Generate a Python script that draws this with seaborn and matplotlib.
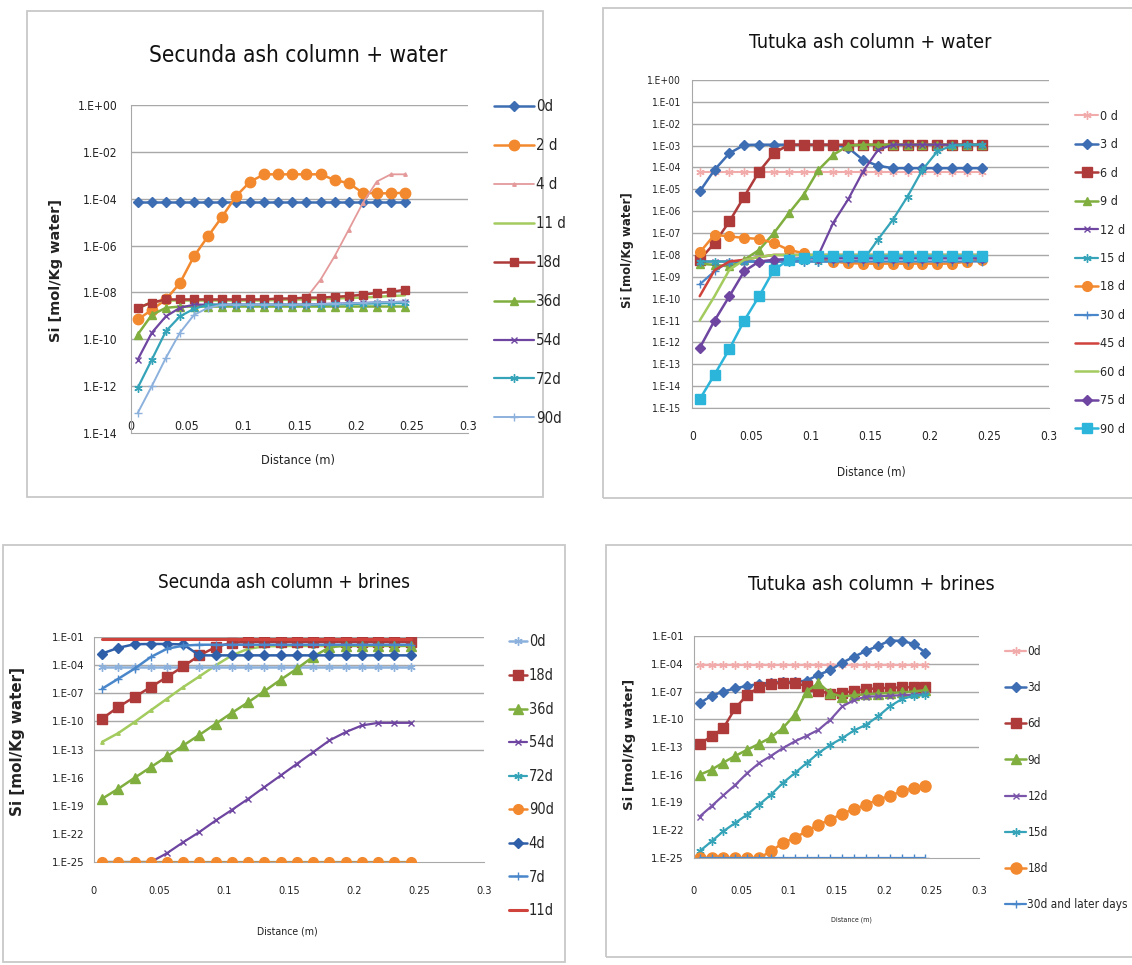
import os
import matplotlib
matplotlib.use("Agg")
import matplotlib.pyplot as plt
from matplotlib import font_manager
from matplotlib.font_manager import FontProperties
from matplotlib.patches import Rectangle
import seaborn as sns

# ---------------- data ----------------
distance = [0.00625, 0.01875, 0.03125, 0.04375, 0.05625, 0.06875, 0.08125, 0.09375,
            0.10625, 0.11875, 0.13125, 0.14375, 0.15625, 0.16875, 0.18125, 0.19375,
            0.20625, 0.21875, 0.23125, 0.24375]
x_ticks = [0, 0.05, 0.1, 0.15, 0.2, 0.25, 0.3]
x_ticklabels = ["0", "0.05", "0.1", "0.15", "0.2", "0.25", "0.3"]

# Secunda ash column + water
sw_labels = ["0d", "2 d", "4 d", "11 d", "18d", "36d", "54d", "72d", "90d"]
sw_0d = [7e-5, 7e-5, 7e-5, 7e-5, 7e-5, 7e-5, 7e-5, 7e-5, 7e-5, 7e-5,
         7e-5, 7e-5, 7e-5, 7e-5, 7e-5, 7e-5, 7e-5, 7e-5, 7e-5, 7e-5]
sw_2d = [7e-10, 1.8e-9, 5e-9, 2.5e-8, 3.5e-7, 2.5e-6, 1.7e-5, 1.3e-4, 5.4e-4, 1.1e-3,
         1.1e-3, 1.1e-3, 1.1e-3, 1.1e-3, 6.3e-4, 4.6e-4, 1.8e-4, 1.7e-4, 1.7e-4, 1.8e-4]
sw_4d = [2.5e-9, 3.5e-9, 4.5e-9, 5e-9, 5e-9, 5e-9, 5e-9, 5e-9, 5e-9, 5e-9,
         5e-9, 5.5e-9, 6e-9, 3.5e-8, 3.5e-7, 4.7e-6, 6.5e-5, 5.4e-4, 1.1e-3, 1.1e-3]
sw_11d = [2e-9, 4e-9, 4.5e-9, 4.5e-9, 4.5e-9, 4.5e-9, 4.5e-9, 4.5e-9, 4.5e-9, 4.5e-9,
          4.8e-9, 5e-9, 5e-9, 5.2e-9, 5.5e-9, 5.8e-9, 6e-9, 6.5e-9, 7e-9, 7.5e-9]
sw_18d = [2.2e-9, 3.7e-9, 5e-9, 5e-9, 5e-9, 5e-9, 5e-9, 5e-9, 5e-9, 5e-9,
          5.5e-9, 5.5e-9, 6e-9, 6e-9, 6.5e-9, 7e-9, 8e-9, 9.5e-9, 1.05e-8, 1.3e-8]
sw_36d = [1.6e-10, 1.1e-9, 2.2e-9, 2.5e-9, 2.5e-9, 2.5e-9, 2.5e-9, 2.5e-9, 2.5e-9, 2.5e-9,
          2.5e-9, 2.5e-9, 2.5e-9, 2.5e-9, 2.5e-9, 2.5e-9, 2.5e-9, 2.5e-9, 2.5e-9, 2.5e-9]
sw_54d = [1.35e-11, 1.9e-10, 9.5e-10, 2.2e-9, 3e-9, 3e-9, 3e-9, 3e-9, 3e-9, 3e-9,
          3e-9, 3e-9, 3e-9, 3.2e-9, 3.3e-9, 3.4e-9, 3.5e-9, 3.7e-9, 3.8e-9, 4e-9]
sw_72d = [8.5e-13, 1.35e-11, 2.2e-10, 9.5e-10, 2e-9, 3e-9, 3e-9, 3e-9, 3e-9, 3e-9,
          3e-9, 3e-9, 3e-9, 3e-9, 3.1e-9, 3.2e-9, 3.3e-9, 3.4e-9, 3.5e-9, 3.5e-9]
sw_90d = [7.2e-14, 1e-12, 1.6e-11, 1.9e-10, 1.1e-9, 2.2e-9, 3e-9, 3e-9, 3e-9, 3e-9,
          3e-9, 3e-9, 3e-9, 3.2e-9, 3.3e-9, 3.4e-9, 3.6e-9, 3.8e-9, 3.9e-9, 4e-9]

# Tutuka ash column + water
tw_labels = ["0 d", "3 d", "6 d", "9 d", "12 d", "15 d", "18 d", "30 d", "45 d", "60 d", "75 d", "90 d"]
tw_0d = [6.5e-5, 6.5e-5, 6.5e-5, 6.5e-5, 6.5e-5, 6.5e-5, 6.5e-5, 6.5e-5, 6.5e-5, 6.5e-5,
         6.5e-5, 6.5e-5, 6.5e-5, 6.5e-5, 6.5e-5, 6.5e-5, 6.5e-5, 6.5e-5, 6.5e-5, 6.5e-5]
tw_3d = [8e-6, 7.8e-5, 4.5e-4, 1.07e-3, 1.1e-3, 1.1e-3, 1.1e-3, 1.1e-3, 1.1e-3, 1.1e-3,
         8e-4, 2.2e-4, 1.2e-4, 9.3e-5, 9.3e-5, 9.3e-5, 9.3e-5, 9.3e-5, 9.3e-5, 9.3e-5]
tw_6d = [6e-9, 3.5e-8, 3.4e-7, 4.7e-6, 6.5e-5, 4.5e-4, 1.1e-3, 1.1e-3, 1.1e-3, 1.1e-3,
         1.1e-3, 1.1e-3, 1.1e-3, 1.1e-3, 1.1e-3, 1.1e-3, 1.1e-3, 1.1e-3, 1.1e-3, 1.1e-3]
tw_9d = [4e-9, 3.5e-9, 3e-9, 6e-9, 1.7e-8, 1e-7, 8e-7, 5.6e-6, 7.8e-5, 3.8e-4,
         1e-3, 1.1e-3, 1.1e-3, 1.1e-3, 1.1e-3, 1.1e-3, 1.1e-3, 1.1e-3, 1.1e-3, 1.1e-3]
tw_12d = [5e-9, 5e-9, 5e-9, 5e-9, 5e-9, 5e-9, 5e-9, 5.5e-9, 1e-8, 3e-7,
          3.5e-6, 6.5e-5, 6.3e-4, 1.1e-3, 1.1e-3, 1.1e-3, 1.1e-3, 1.1e-3, 1.1e-3, 1.1e-3]
tw_15d = [5e-9, 5e-9, 5e-9, 5e-9, 5e-9, 5e-9, 5e-9, 5e-9, 5e-9, 5e-9,
          5e-9, 5.5e-9, 5e-8, 4e-7, 4.7e-6, 7.8e-5, 5.4e-4, 1e-3, 1.1e-3, 1.1e-3]
tw_18d = [1.3e-8, 8.4e-8, 7e-8, 6e-8, 5.4e-8, 3.5e-8, 1.7e-8, 1.2e-8, 7e-9, 5e-9,
          4.2e-9, 4e-9, 4e-9, 4e-9, 4e-9, 4e-9, 4e-9, 4e-9, 5e-9, 6e-9]
tw_30d = [4.5e-10, 1.8e-9, 5e-9, 5e-9, 5e-9, 5e-9, 5e-9, 5e-9, 5e-9, 5e-9,
          5e-9, 5e-9, 5e-9, 5e-9, 5e-9, 5e-9, 5e-9, 5e-9, 5e-9, 5e-9]
tw_45d = [1.3e-10, 2e-9, 5e-9, 6e-9, 8e-9, 1e-8, 1e-8, 1e-8, 1e-8, 1e-8,
          1e-8, 1e-8, 1e-8, 1e-8, 1e-8, 1e-8, 1e-8, 1e-8, 1e-8, 1e-8]
tw_60d = [1e-11, 1.3e-10, 2.1e-9, 6e-9, 8e-9, 1e-8, 1e-8, 1e-8, 1e-8, 1e-8,
          1e-8, 1e-8, 1e-8, 1e-8, 1e-8, 1e-8, 1e-8, 1e-8, 1e-8, 1e-8]
tw_75d = [5.6e-13, 1e-11, 1.3e-10, 1.8e-9, 5e-9, 6e-9, 6.5e-9, 7e-9, 7e-9, 7e-9,
          7e-9, 7e-9, 7e-9, 7e-9, 7e-9, 7e-9, 7e-9, 7e-9, 7e-9, 7e-9]
tw_90d = [2.5e-15, 3.4e-14, 5e-13, 1e-11, 1.3e-10, 2.1e-9, 6e-9, 7e-9, 8.5e-9, 9e-9,
          9e-9, 9e-9, 9e-9, 9e-9, 9e-9, 9e-9, 9e-9, 9e-9, 9e-9, 9e-9]

# Secunda ash column + brines
sb_labels = ["0d", "18d", "36d", "54d", "72d", "90d", "4d", "7d", "11d"]
sb_0d = [7e-5, 7e-5, 7e-5, 7e-5, 7e-5, 7e-5, 7e-5, 7e-5, 7e-5, 7e-5,
         7e-5, 7e-5, 7e-5, 7e-5, 7e-5, 7e-5, 7e-5, 7e-5, 7e-5, 7e-5]
sb_18d = [1.9e-10, 3.4e-9, 4e-8, 4.6e-7, 5.4e-6, 7.4e-5, 1.1e-3, 8.5e-3, 2.5e-2, 3e-2,
          3e-2, 3e-2, 3e-2, 3e-2, 3e-2, 3e-2, 3e-2, 3e-2, 3e-2, 3e-2]
sb_36d = [5.5e-19, 6.5e-18, 9.5e-17, 1.3e-15, 1.8e-14, 2.7e-13, 3.7e-12, 5.6e-11, 8.3e-10, 1.1e-8,
          1.7e-7, 2.8e-6, 4.2e-5, 8e-4, 8e-3, 1.2e-2, 1.2e-2, 1.2e-2, 1.2e-2, 1.2e-2]
sb_54d = [1e-25, 1e-25, 1e-25, 1e-25, 8.7e-25, 1.3e-23, 1.6e-22, 2.7e-21, 3.7e-20, 5.5e-19,
          9.8e-18, 1.7e-16, 3e-15, 5.2e-14, 9.3e-13, 7.2e-12, 3.7e-11, 7e-11, 7e-11, 7e-11]
sb_72d = [1e-25, 1e-25, 1e-25, 1e-25, 1e-25, 1e-25, 1e-25, 1e-25, 1e-25, 1e-25,
          1e-25, 1e-25, 1e-25, 1e-25, 1e-25, 1e-25, 1e-25, 1e-25, 1e-25, 1e-25]
sb_90d = [1e-25, 1e-25, 1e-25, 1e-25, 1e-25, 1e-25, 1e-25, 1e-25, 1e-25, 1e-25,
          1e-25, 1e-25, 1e-25, 1e-25, 1e-25, 1e-25, 1e-25, 1e-25, 1e-25, 1e-25]
sb_4d = [1.7e-3, 7e-3, 1.7e-2, 1.8e-2, 1.8e-2, 1.6e-2, 1.1e-3, 1.1e-3, 1.1e-3, 1.1e-3,
         1.1e-3, 1.1e-3, 1.1e-3, 1.1e-3, 1.1e-3, 1.1e-3, 1.1e-3, 1.1e-3, 1.1e-3, 1.1e-3]
sb_7d = [3e-7, 3.5e-6, 4.2e-5, 7.3e-4, 5.6e-3, 1.2e-2, 1.5e-2, 1.5e-2, 1.5e-2, 1.5e-2,
         1.5e-2, 1.5e-2, 1.5e-2, 1.5e-2, 1.5e-2, 1.5e-2, 1.5e-2, 1.5e-2, 1.5e-2, 1.5e-2]
sb_11d = [5.5e-2, 5.5e-2, 5.5e-2, 5.5e-2, 5.5e-2, 5.5e-2, 5.5e-2, 5.5e-2, 5.5e-2, 5.5e-2,
          5.5e-2, 5.5e-2, 5.5e-2, 5.5e-2, 5.5e-2, 5.5e-2, 5.5e-2, 5.5e-2, 5.5e-2, 5.5e-2]
# extra light-green series drawn in the panel but not listed in its legend
sb_extra = [6.3e-13, 5.6e-12, 8.5e-11, 1.5e-9, 2.6e-8, 4.6e-7, 6.3e-6, 9.5e-5, 1.1e-3, 5.6e-3,
            1e-2, 1.1e-2, 1.1e-2, 1.1e-2, 1.1e-2, 1.1e-2, 1.1e-2, 1.1e-2, 1.1e-2, 1.1e-2]

# Tutuka ash column + brines
tb_labels = ["0d", "3d", "6d", "9d", "12d", "15d", "18d", "30d and later days"]
tb_0d = [7.4e-5, 7.4e-5, 7.4e-5, 7.4e-5, 7.4e-5, 7.4e-5, 7.4e-5, 7.4e-5, 7.4e-5, 7.4e-5,
         7.4e-5, 7.4e-5, 7.4e-5, 7.4e-5, 7.4e-5, 7.4e-5, 7.4e-5, 7.4e-5, 7.4e-5, 7.4e-5]
tb_3d = [5.4e-9, 3.4e-8, 1e-7, 2.2e-7, 4e-7, 6.6e-7, 9e-7, 1.1e-6, 1.1e-6, 1.5e-6,
         6.3e-6, 2.1e-5, 1.3e-4, 5.9e-4, 2.4e-3, 8.3e-3, 3.2e-2, 3e-2, 1.4e-2, 1.6e-3]
tb_6d = [2.2e-13, 1.4e-12, 1.1e-11, 1.6e-9, 4.3e-8, 2.9e-7, 6.6e-7, 9e-7, 8e-7, 4e-7,
         1.1e-7, 6e-8, 7e-8, 1.2e-7, 1.8e-7, 2.2e-7, 2.5e-7, 2.8e-7, 3e-7, 3.3e-7]
tb_9d = [1e-16, 3.5e-16, 2.1e-15, 1.1e-14, 5e-14, 2.2e-13, 1.1e-12, 1.1e-11, 3e-10, 1e-7,
         7.9e-7, 6.5e-8, 2.8e-8, 4e-8, 5e-8, 6e-8, 7e-8, 8e-8, 1e-7, 1.4e-7]
tb_12d = [3e-21, 4e-20, 6e-19, 8e-18, 1.5e-16, 1.8e-15, 1.1e-14, 7.5e-14, 4e-13, 1.6e-12,
          7.2e-12, 8.7e-11, 2.4e-9, 1.2e-8, 2.8e-8, 3e-8, 3.5e-8, 4e-8, 4.5e-8, 5.5e-8]
tb_15d = [5.4e-25, 6.3e-24, 7.9e-23, 6.3e-22, 5e-21, 5.8e-20, 6.9e-19, 1.3e-17, 1.5e-16, 1.8e-15,
          2.2e-14, 1.7e-13, 9e-13, 6.3e-12, 2.5e-11, 2e-10, 2.4e-9, 1.5e-8, 3.4e-8, 4e-8]
tb_18d = [1e-25, 1e-25, 1e-25, 1e-25, 1e-25, 1e-25, 5.4e-25, 4.2e-24, 1.5e-23, 7.9e-23,
          4e-22, 1.4e-21, 6.3e-21, 2e-20, 5.8e-20, 2e-19, 5.4e-19, 1.6e-18, 3.6e-18, 5.5e-18]
tb_30d = [1e-25, 1e-25, 1e-25, 1e-25, 1e-25, 1e-25, 1e-25, 1e-25, 1e-25, 1e-25,
          1e-25, 1e-25, 1e-25, 1e-25, 1e-25, 1e-25, 1e-25, 1e-25, 1e-25, 1e-25]

# ---------------- styles ----------------
BLUE, ORANGE, PINK, LGREEN = "#3D6DB3", "#F3892E", "#E49A9A", "#A3CB5E"
DRED, GREEN, PURPLE, TEAL = "#AE3A3A", "#80AE3F", "#6E45A0", "#35A3B8"
LBLUE, MBLUE, RED, CYAN = "#8CB1DD", "#4A87CA", "#CF433C", "#2CB5DB"


def st(c, m=None, ms=0, lw=1.8, mew=1.0):
    return dict(c=c, m=m, ms=ms, lw=lw, mew=mew)


AST = (6, 2, 0)
sw_styles = [st(BLUE, "D", 5.5), st(ORANGE, "o", 7.5), st(PINK, "^", 2.5, 1.3),
             st(LGREEN, None, 0, 1.8), st(DRED, "s", 5.5), st(GREEN, "^", 6),
             st(PURPLE, "x", 5, 1.6), st(TEAL, AST, 6, 1.6), st(LBLUE, "+", 6, 1.4)]
tw_styles = [st("#F2ABAB", AST, 6, 1.5), st(BLUE, "D", 5), st(DRED, "s", 6.5), st(GREEN, "^", 6),
             st(PURPLE, "x", 5, 1.6), st(TEAL, AST, 6, 1.6), st(ORANGE, "o", 7),
             st(MBLUE, "+", 6, 1.6), st(RED, None, 0, 1.8), st(LGREEN, None, 0, 1.8),
             st(PURPLE, "D", 5), st(CYAN, "s", 7.5)]
sb_styles = [st(LBLUE, AST, 6, 1.8), st(DRED, "s", 6.5), st(GREEN, "^", 6.5),
             st(PURPLE, "x", 5, 1.6), st(TEAL, AST, 6, 1.6), st(ORANGE, "o", 7),
             st("#2E5FA8", "D", 5.5), st(MBLUE, "+", 6, 1.8), st(RED, None, 0, 2.2)]
sb_extra_style = st(LGREEN, "^", 2.5, 1.8)
tb_styles = [st("#F2ABAB", AST, 6, 1.6), st(BLUE, "D", 5.5), st(DRED, "s", 7), st(GREEN, "^", 6.5),
             st("#7A55AA", "x", 5, 1.6), st(TEAL, AST, 6, 1.6), st(ORANGE, "o", 8), st(MBLUE, "+", 6, 1.6)]

# ---------------- fonts ----------------
sns.set_style("white")
plt.rcParams["font.family"] = ["Liberation Sans", "DejaVu Sans"]


def find_condensed():
    bad = ("bold", "italic", "oblique", "light", "thin", "black", "medium", "semibold",
           "extrabold", "heavy", "mono", "serif")
    ranked = []
    for f in font_manager.fontManager.ttflist:
        base = os.path.basename(f.fname).lower()
        if any(b in base for b in bad) or f.style != "normal":
            continue
        if "narrow" in base and "liberation" in base:
            ranked.append((0, f.fname))
        elif "semicondensed" in base or "semi-condensed" in base:
            ranked.append((3, f.fname))
        elif "extracondensed" in base or "ultracondensed" in base:
            ranked.append((4, f.fname))
        elif "condensed" in base:
            ranked.append((1 if "sans" in base else 2, f.fname))
    ranked.sort()
    return ranked[0][1] if ranked else None


_cond = find_condensed()


def FP(size):
    if _cond:
        return FontProperties(fname=_cond, size=size)
    return FontProperties(family=["Liberation Sans", "DejaVu Sans"], size=size)


def FPB(size):
    return FontProperties(family=["DejaVu Sans"], weight="bold", size=size)


W, H = 1132, 965
fig = plt.figure(figsize=(W / 100, H / 100), dpi=100)
renderer = fig.canvas.get_renderer()


def fx(x):
    return x / W


def fy(y):
    return 1 - y / H


def size_for(text, target_px, maker, base=10.0):
    t = fig.text(0, 0, text, fontproperties=maker(base))
    w = t.get_window_extent(renderer).width
    t.remove()
    return base * target_px / w


def axes_px(x0, y0, x1, y1):
    return fig.add_axes([fx(x0), fy(y1), (x1 - x0) / W, (y1 - y0) / H])


def draw(ax, series, styles):
    handles = []
    for vals, s in zip(series, styles):
        kw = dict(color=s["c"], linewidth=s["lw"])
        if s["m"] is not None:
            kw.update(marker=s["m"], markersize=s["ms"], markeredgecolor=s["c"],
                      markerfacecolor=s["c"], markeredgewidth=s["mew"])
        sns.lineplot(x=distance, y=vals, ax=ax, errorbar=None, sort=False,
                     estimator=None, **kw)
        handles.append(ax.lines[-1])
    return handles


def fmt_exp(e):
    return "1.E%+03d" % e


def style_axes(ax, exps, ylim_exp, grid_exps, ytick_w, xtick_w, ypad, xpad):
    ax.set_yscale("log")
    ax.set_xlim(0, 0.3)
    ax.set_ylim(10.0 ** ylim_exp[0], 10.0 ** ylim_exp[1])
    ys = size_for("1.E+00", ytick_w, FP)
    xs = size_for("0.05", xtick_w, FP)
    ax.set_yticks([10.0 ** e for e in exps])
    ax.set_yticklabels([fmt_exp(e) for e in exps], fontproperties=FP(ys), color="#222222")
    ax.minorticks_off()
    ax.set_xticks(x_ticks)
    ax.set_xticklabels(x_ticklabels, fontproperties=FP(xs), color="#222222")
    ax.grid(False)
    for e in grid_exps:
        ax.axhline(10.0 ** e, color="#A8A8A8", linewidth=1.0, zorder=0)
    for side in ["top", "right"]:
        ax.spines[side].set_visible(False)
    ax.spines["left"].set_color("#A8A8A8")
    ax.spines["bottom"].set_color("#A8A8A8")
    ax.tick_params(axis="y", length=0, pad=ypad)
    ax.tick_params(axis="x", length=0, pad=xpad)
    ax.set_xlabel("")
    ax.set_ylabel("")
    ax.set_facecolor("none")


def frame(x0, y0, x1, y1):
    fig.add_artist(Rectangle((fx(x0), fy(y1)), (x1 - x0) / W, (y1 - y0) / H,
                             transform=fig.transFigure, fill=False,
                             edgecolor="#C8C8C8", linewidth=1.3))


def texts(title, tcx, tcy, tw, ylx, yly, ylen, xlx, xly, xw):
    ts = size_for(title, tw, FP)
    fig.text(fx(tcx), fy(tcy), title, ha="center", va="center", fontproperties=FP(ts),
             color="#111111")
    ls = size_for("Si [mol/Kg water]", ylen * 0.86, FPB)
    fig.text(fx(ylx), fy(yly), "Si [mol/Kg water]", rotation=90, ha="center", va="center",
             fontproperties=FPB(ls), color="#222222")
    xs = size_for("Distance (m)", xw, FP)
    fig.text(fx(xlx), fy(xly), "Distance (m)", ha="center", va="center",
             fontproperties=FP(xs), color="#222222")


def legend(handles, labels, ref_label, ref_w, left, first_c, pitch, hlen_px):
    fs = size_for(ref_label, ref_w, FP)
    fpx = fs * 100 / 72.0
    row = 1.17 * fpx
    fig.legend(handles, labels, loc="upper left",
               bbox_to_anchor=(fx(left), fy(first_c - row / 2)), frameon=False,
               prop=FP(fs), labelspacing=max((pitch - row) / fpx, 0.1),
               handlelength=hlen_px / fpx, handletextpad=0.12, borderpad=0,
               borderaxespad=0, numpoints=1)


# ---- panel frames ----
frame(27, 11, 543, 497)
frame(603, 8, 1140, 498)
frame(3, 545, 565, 962)
frame(606, 545, 1140, 957)

# ---- Panel 1 ----
ax1 = axes_px(130.7, 105, 468.2, 433)
h1 = draw(ax1, [sw_0d, sw_2d, sw_4d, sw_11d, sw_18d, sw_36d, sw_54d, sw_72d, sw_90d], sw_styles)
style_axes(ax1, [0, -2, -4, -6, -8, -10, -12, -14], (-14, 0), [0, -2, -4, -6, -8, -10, -12],
           40, 25, 9.5, -9.5)
texts("Secunda ash column + water", 298, 55, 300, 56, 270, 166, 298, 461, 74)
legend(h1, sw_labels, "11 d", 30, 494, 108, 41.5, 40)

# ---- Panel 2 ----
ax2 = axes_px(692.3, 80, 1048.6, 408)
h2 = draw(ax2, [tw_0d, tw_3d, tw_6d, tw_9d, tw_12d, tw_15d, tw_18d, tw_30d, tw_45d, tw_60d,
                tw_75d, tw_90d], tw_styles)
e2 = [0, -1, -2, -3, -4, -5, -6, -7, -8, -9, -10, -11, -12, -13, -14, -15]
style_axes(ax2, e2, (-15, 0), e2, 34, 24, 8, 16)
texts("Tutuka ash column + water", 870, 42, 243, 627, 250, 135, 871, 472, 68)
legend(h2, tw_labels, "12 d", 25, 1075, 117, 30.1, 23)

# ---- Panel 3 ----
ax3 = axes_px(93.9, 637, 483.8, 862)
h3 = draw(ax3, [sb_0d, sb_18d, sb_36d, sb_54d, sb_72d, sb_90d, sb_4d, sb_7d, sb_11d], sb_styles)
draw(ax3, [sb_extra], [sb_extra_style])
for ln in h3:
    ln.set_zorder(3)
e3 = [-1, -4, -7, -10, -13, -16, -19, -22, -25]
style_axes(ax3, e3, (-25, -1), [-1, -4, -7, -10, -13], 38, 22, 6.5, 17)
texts("Secunda ash column + brines", 284, 583, 254, 18, 742, 173, 287, 932, 61)
legend(h3, sb_labels, "18d", 25, 509, 643, 35.6, 18)

# ---- Panel 4 ----
ax4 = axes_px(693.7, 636, 978.9, 858)
h4 = draw(ax4, [tb_0d, tb_3d, tb_6d, tb_9d, tb_12d, tb_15d, tb_18d, tb_30d], tb_styles)
style_axes(ax4, e3, (-25, -1), [-1, -4, -7, -10, -13], 38, 22.5, 7, 20)
texts("Tutuka ash column + brines", 871, 585, 247, 630, 744, 152, 851, 920, 41)
legend(h4, tb_labels, "30d and later days", 100, 1005, 652, 36.9, 21)

fig.savefig("out.png", dpi=100, facecolor="white")
